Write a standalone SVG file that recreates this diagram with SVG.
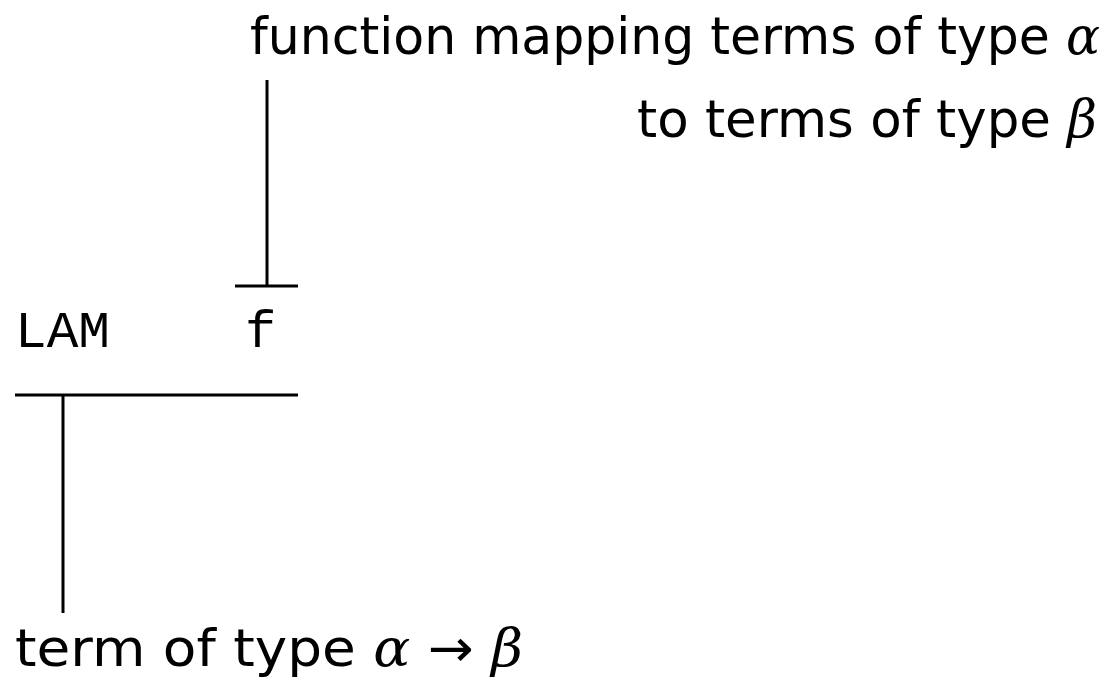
<svg xmlns="http://www.w3.org/2000/svg" width="1118" height="681" viewBox="0 0 1118 681">
<style>
.t{font-family:"DejaVu Sans","Liberation Sans",sans-serif;font-size:52px;fill:#000}
.m{font-family:"Liberation Mono","DejaVu Sans Mono",monospace;font-size:52px;fill:#000}
.g{font-family:"DejaVu Serif","Liberation Serif",serif;font-style:italic}
.l{stroke:#000;stroke-width:3;fill:none}
</style>
<rect width="1118" height="681" fill="#fff"/>
<g id="connectors">
<line class="l" x1="267" y1="80" x2="267" y2="286"/>
<line class="l" x1="235" y1="286" x2="298" y2="286"/>
<line class="l" x1="15" y1="395" x2="298" y2="395"/>
<line class="l" x1="63" y1="395" x2="63" y2="613"/>
</g>
<g id="top-label">
<text class="t" x="250" y="54" textLength="850" lengthAdjust="spacingAndGlyphs">function mapping terms of type <tspan class="g">α</tspan></text>
<text class="t" x="637" y="137" textLength="460" lengthAdjust="spacingAndGlyphs">to terms of type <tspan class="g">β</tspan></text>
</g>
<g id="lam"><text class="m" x="15" y="347" textLength="95" lengthAdjust="spacingAndGlyphs">LAM</text></g>
<g id="f"><text class="m" x="245" y="347">f</text></g>
<g id="bottom-label">
<text class="t" x="15" y="666" textLength="508" lengthAdjust="spacingAndGlyphs">term of type <tspan class="g">α</tspan> → <tspan class="g">β</tspan></text>
</g>
</svg>
